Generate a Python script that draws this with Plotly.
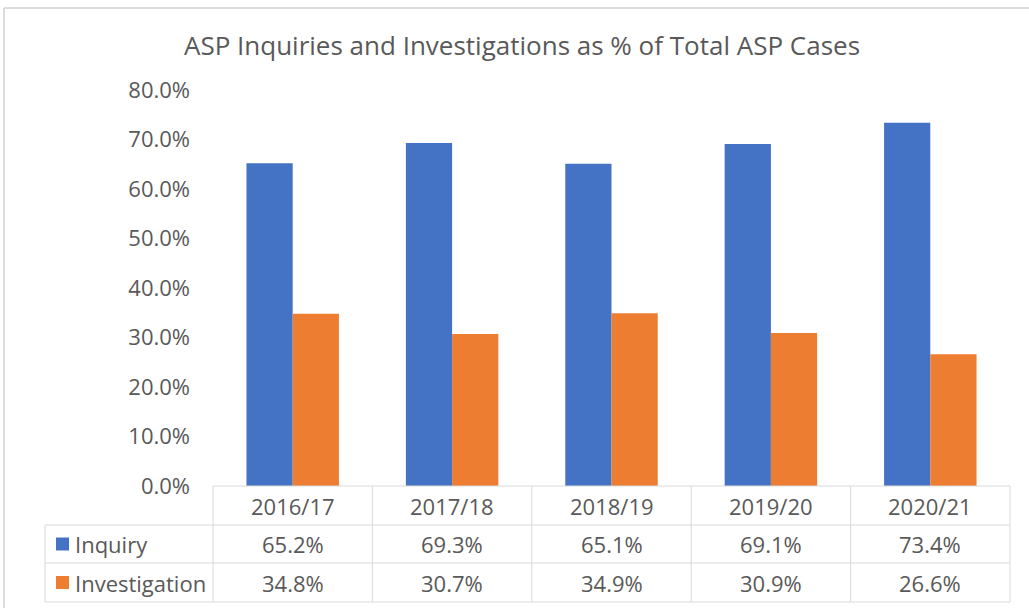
import plotly.graph_objects as go

categories = ["2016/17", "2017/18", "2018/19", "2019/20", "2020/21"]
inquiry = [65.2, 69.3, 65.1, 69.1, 73.4]
investigation = [34.8, 30.7, 34.9, 30.9, 26.6]
series_names = ["Inquiry", "Investigation"]
title_text = "ASP Inquiries and Investigations as % of Total ASP Cases"

BLUE = "#4472C4"
ORANGE = "#ED7D31"
TXT = "#595959"
GRID = "#D9D9D9"
FONT = "Open Sans"

W, H = 1029, 608
L, R, T, B = 213, 1010, 90, 486  # plot area in px


def xp(px):
    return (px - L) / (R - L)


def yp(py):
    return (B - py) / (B - T)


fig = go.Figure()
fig.add_trace(go.Bar(x=categories, y=inquiry, name=series_names[0], marker_color=BLUE, marker_line_width=0))
fig.add_trace(go.Bar(x=categories, y=investigation, name=series_names[1], marker_color=ORANGE, marker_line_width=0))

shapes = []
annotations = []
row_y = [486, 525, 563, 602]
ncat = len(categories)
col_x = [L + i * (R - L) / ncat for i in range(ncat + 1)]
tbl_left = 45

line = dict(color=GRID, width=1)
shapes.append(dict(type="line", xref="paper", yref="paper", x0=xp(L), x1=xp(R), y0=yp(row_y[0]), y1=yp(row_y[0]), line=line))
for ry in row_y[1:]:
    shapes.append(dict(type="line", xref="paper", yref="paper", x0=xp(tbl_left), x1=xp(R), y0=yp(ry), y1=yp(ry), line=line))
for cx in col_x:
    shapes.append(dict(type="line", xref="paper", yref="paper", x0=xp(cx), x1=xp(cx), y0=yp(row_y[0]), y1=yp(row_y[3]), line=line))
shapes.append(dict(type="line", xref="paper", yref="paper", x0=xp(tbl_left), x1=xp(tbl_left), y0=yp(row_y[1]), y1=yp(row_y[3]), line=line))

# outer chart border
shapes.append(dict(type="line", xref="paper", yref="paper", x0=xp(4), x1=xp(1035), y0=yp(8), y1=yp(8), line=dict(color="#D0D0D0", width=1.5)))
shapes.append(dict(type="line", xref="paper", yref="paper", x0=xp(4), x1=xp(4), y0=yp(8), y1=yp(615), line=dict(color="#D0D0D0", width=1.5)))

tfont = dict(family=FONT, size=22, color=TXT)
for i, c in enumerate(categories):
    cx = (col_x[i] + col_x[i + 1]) / 2
    annotations.append(dict(x=xp(cx), y=yp((row_y[0] + row_y[1]) / 2), xref="paper", yref="paper",
                            xanchor="center", yanchor="middle", text=c, showarrow=False, font=tfont))
    for r, vals in enumerate([inquiry, investigation]):
        annotations.append(dict(x=xp(cx), y=yp((row_y[r + 1] + row_y[r + 2]) / 2), xref="paper", yref="paper",
                                xanchor="center", yanchor="middle",
                                text=f"{vals[i]:.1f}%", showarrow=False, font=tfont))

for r, (nm, col) in enumerate(zip(series_names, [BLUE, ORANGE])):
    cy = (row_y[r + 1] + row_y[r + 2]) / 2
    shapes.append(dict(type="rect", xref="paper", yref="paper", x0=xp(56), x1=xp(69), y0=yp(cy + 6.5), y1=yp(cy - 6.5),
                       fillcolor=col, line=dict(width=0)))
    annotations.append(dict(x=xp(73), y=yp(cy), xref="paper", yref="paper", xanchor="left", yanchor="middle",
                            text=nm, showarrow=False, font=tfont))

fig.update_layout(
    width=W, height=H,
    margin=dict(l=L, r=W - R, t=T, b=H - B, pad=0),
    paper_bgcolor="white", plot_bgcolor="white",
    barmode="group", bargap=0.42, bargroupgap=0,
    showlegend=False,
    title=dict(text=title_text, x=522 / W, xanchor="center", y=1 - 46 / H, yanchor="middle",
               font=dict(family=FONT, size=26, color=TXT)),
    shapes=shapes, annotations=annotations,
)
fig.update_xaxes(showticklabels=False, showgrid=False, zeroline=False, showline=False, ticks="")
fig.update_yaxes(range=[0, 80], dtick=10, tickformat=".1f", ticksuffix="%", showgrid=False, zeroline=False,
                 showline=False, ticklabelstandoff=22, tickfont=dict(family=FONT, size=22, color=TXT))

fig.write_html("out.html", config={"displayModeBar": False},
               post_script="document.body.style.margin='0';")
